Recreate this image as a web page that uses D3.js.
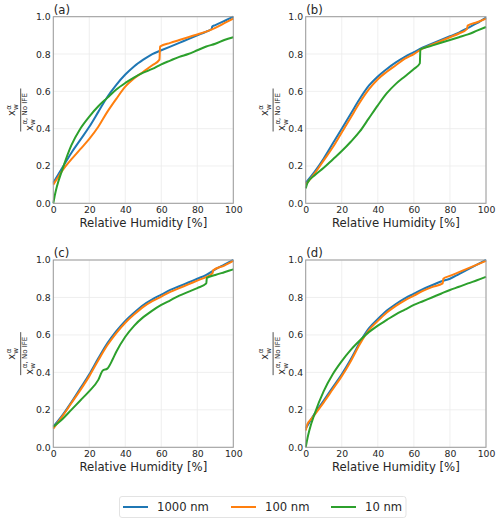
<!DOCTYPE html>
<html>
<head>
<meta charset="utf-8">
<script src="https://cdn.jsdelivr.net/npm/d3@7"></script>
<style>
  html, body { margin: 0; padding: 0; background: #fff; }
  svg { display: block; }
  text { font-family: "DejaVu Sans", sans-serif; fill: #262626; }
</style>
</head>
<body>
<svg id="chart" width="500" height="523"></svg>
<script>
// ---- data ----
const seriesNames = ["1000 nm", "100 nm", "10 nm"];
const seriesColors = ["#1f77b4", "#ff7f0e", "#2ca02c"];
const panelLabels = ["(a)", "(b)", "(c)", "(d)"];
const xTicks = [0, 20, 40, 60, 80, 100];
const yTicks = [0.0, 0.2, 0.4, 0.6, 0.8, 1.0];

// panel (a)
const a1000 = [[0,0.11],[5,0.19],[10,0.27],[15,0.34],[20,0.41],[25,0.49],[30,0.57],[35,0.635],[40,0.69],[45,0.735],[50,0.77],[55,0.80],[60,0.82],[65,0.84],[70,0.86],[75,0.88],[80,0.90],[85,0.92],[88,0.935],[88.3,0.948],[90,0.955],[95,0.977],[100,1.0]];
const a100  = [[0,0.10],[2,0.13],[5,0.175],[10,0.235],[15,0.29],[20,0.345],[25,0.41],[30,0.49],[35,0.56],[40,0.625],[45,0.67],[50,0.705],[55,0.74],[59,0.77],[59.3,0.84],[65,0.86],[70,0.875],[75,0.89],[80,0.905],[85,0.92],[90,0.94],[95,0.965],[100,0.99]];
const a10   = [[0,0.0],[1,0.05],[2,0.09],[5,0.18],[10,0.31],[15,0.40],[20,0.465],[25,0.52],[30,0.565],[35,0.61],[40,0.645],[45,0.675],[50,0.70],[55,0.72],[60,0.745],[65,0.765],[70,0.785],[75,0.80],[80,0.82],[85,0.84],[90,0.855],[95,0.875],[100,0.89]];

// panel (b)
const b1000 = [[0,0.11],[5,0.17],[10,0.24],[15,0.32],[20,0.40],[25,0.48],[30,0.56],[35,0.63],[40,0.68],[45,0.72],[50,0.755],[55,0.785],[60,0.81],[65,0.835],[70,0.855],[75,0.875],[80,0.895],[85,0.915],[90,0.94],[95,0.965],[100,0.995]];
const b100  = [[0,0.10],[5,0.16],[10,0.23],[15,0.30],[20,0.38],[25,0.46],[30,0.54],[35,0.61],[40,0.665],[45,0.705],[50,0.74],[55,0.775],[60,0.80],[65,0.83],[70,0.85],[75,0.87],[80,0.89],[85,0.91],[89.5,0.935],[89.8,0.952],[95,0.97],[100,0.99]];
const b10   = [[0,0.08],[1,0.11],[5,0.15],[10,0.19],[15,0.235],[20,0.28],[25,0.33],[30,0.385],[35,0.455],[40,0.525],[45,0.59],[50,0.64],[55,0.68],[60,0.72],[63.3,0.75],[63.6,0.825],[65,0.83],[70,0.845],[75,0.86],[80,0.875],[85,0.89],[90,0.905],[95,0.925],[100,0.945]];

// panel (c)
const c1000 = [[0,0.11],[5,0.17],[10,0.24],[15,0.315],[20,0.39],[25,0.475],[30,0.555],[35,0.62],[40,0.675],[45,0.72],[50,0.76],[55,0.79],[60,0.815],[65,0.84],[70,0.86],[75,0.88],[80,0.90],[85,0.92],[90,0.95],[95,0.975],[100,1.0]];
const c100  = [[0,0.10],[5,0.165],[10,0.235],[15,0.305],[20,0.38],[25,0.465],[30,0.545],[35,0.61],[40,0.665],[45,0.71],[50,0.75],[55,0.78],[60,0.805],[65,0.83],[70,0.85],[75,0.87],[80,0.89],[85,0.91],[88.5,0.93],[88.8,0.945],[95,0.97],[100,0.995]];
const c10   = [[0,0.11],[5,0.15],[10,0.20],[15,0.25],[20,0.30],[25,0.36],[27.5,0.41],[30,0.42],[33,0.47],[35,0.51],[40,0.59],[45,0.65],[50,0.695],[55,0.73],[60,0.76],[65,0.785],[70,0.81],[75,0.83],[80,0.85],[85,0.875],[85.3,0.905],[90,0.92],[95,0.935],[100,0.95]];

// panel (d)
const d1000 = [[0,0.10],[5,0.18],[10,0.25],[15,0.32],[20,0.39],[25,0.47],[30,0.56],[35,0.635],[40,0.685],[45,0.73],[50,0.765],[55,0.795],[60,0.82],[65,0.845],[70,0.865],[75,0.885],[80,0.90],[85,0.925],[90,0.95],[95,0.975],[100,1.0]];
const d100  = [[0,0.09],[1,0.125],[3,0.15],[5,0.175],[10,0.24],[15,0.31],[20,0.38],[25,0.46],[30,0.55],[35,0.625],[40,0.675],[45,0.72],[50,0.755],[55,0.785],[60,0.81],[65,0.835],[70,0.855],[76,0.875],[76.3,0.90],[80,0.915],[85,0.935],[90,0.955],[95,0.975],[100,0.995]];
const d10   = [[0,0.0],[1,0.05],[2,0.09],[5,0.18],[10,0.30],[15,0.39],[20,0.46],[25,0.52],[30,0.57],[35,0.615],[40,0.65],[45,0.68],[50,0.71],[55,0.735],[60,0.76],[65,0.78],[70,0.80],[75,0.82],[80,0.84],[85,0.857],[90,0.875],[95,0.892],[100,0.91]];

const panelData = [[a1000, a100, a10], [b1000, b100, b10], [c1000, c100, c10], [d1000, d100, d10]];

// ---- layout ----
const panels = [
  {x0: 53.3, x1: 233.3, y0: 16.7, y1: 203.3},
  {x0: 305.7, x1: 486, y0: 16.7, y1: 203.3},
  {x0: 53.3, x1: 233.3, y0: 260, y1: 447.3},
  {x0: 305.7, x1: 486, y0: 260, y1: 447.3}
];

const svg = d3.select("#chart");

panels.forEach((p, i) => {
  const x = d3.scaleLinear().domain([0, 100]).range([p.x0, p.x1]);
  const y = d3.scaleLinear().domain([0, 1]).range([p.y1, p.y0]);
  const g = svg.append("g");

  // grid
  g.append("g").selectAll("line").data(xTicks).join("line")
    .attr("x1", d => x(d)).attr("x2", d => x(d))
    .attr("y1", p.y0).attr("y2", p.y1)
    .attr("stroke", "#ebebeb").attr("stroke-width", 0.8);
  g.append("g").selectAll("line").data(yTicks).join("line")
    .attr("y1", d => y(d)).attr("y2", d => y(d))
    .attr("x1", p.x0).attr("x2", p.x1)
    .attr("stroke", "#ebebeb").attr("stroke-width", 0.8);

  // axes (labels only)
  const xAxis = d3.axisBottom(x).tickValues(xTicks).tickSize(0).tickPadding(3.5).tickFormat(d3.format("d"));
  const yAxis = d3.axisLeft(y).tickValues(yTicks).tickSize(0).tickPadding(2.6).tickFormat(d3.format(".1f"));
  const gx = g.append("g").attr("transform", `translate(0,${p.y1})`).call(xAxis);
  const gy = g.append("g").attr("transform", `translate(${p.x0},0)`).call(yAxis);
  [gx, gy].forEach(ax => {
    ax.select(".domain").remove();
    ax.selectAll("text").attr("font-size", 9.3).attr("font-family", "DejaVu Sans").attr("fill", "#262626");
  });

  // lines
  const line = d3.line().x(d => x(d[0])).y(d => y(d[1])).curve(d3.curveMonotoneX);
  const clipId = "clip" + i;
  svg.append("clipPath").attr("id", clipId).append("rect")
    .attr("x", p.x0 - 1).attr("y", p.y0 - 2).attr("width", p.x1 - p.x0 + 2).attr("height", p.y1 - p.y0 + 3);
  panelData[i].forEach((s, k) => {
    g.append("path").datum(s).attr("d", line)
      .attr("fill", "none").attr("stroke", seriesColors[k]).attr("stroke-width", 2)
      .attr("clip-path", `url(#${clipId})`);
  });

  // frame
  g.append("rect").attr("x", p.x0).attr("y", p.y0)
    .attr("width", p.x1 - p.x0).attr("height", p.y1 - p.y0)
    .attr("fill", "none").attr("stroke", "#9a9a9a").attr("stroke-width", 1);

  // panel label
  g.append("text").attr("x", p.x0 + 0.5).attr("y", p.y0 - 2.8)
    .attr("font-size", 11.7).text(panelLabels[i]);

  // x label
  g.append("text").attr("x", (p.x0 + p.x1) / 2).attr("y", p.y1 + 23.8)
    .attr("text-anchor", "middle").attr("font-size", 11.7).text("Relative Humidity [%]");

  // y label (fraction)
  const cx = p.x0 - 32.6, cy = (p.y0 + p.y1) / 2;
  const fl = g.append("g").attr("transform", `translate(${cx},${cy}) rotate(-90)`);
  fl.append("line").attr("x1", -21.5).attr("x2", 21.5).attr("y1", 0).attr("y2", 0)
    .attr("stroke", "#262626").attr("stroke-width", 0.8);
  // numerator
  fl.append("text").attr("x", -6).attr("y", -5.5).attr("font-size", 10).text("x");
  fl.append("text").attr("x", 0).attr("y", -2.5).attr("font-size", 7).text("w");
  fl.append("text").attr("x", 0.3).attr("y", -10).attr("font-size", 7).text("α");
  // denominator
  fl.append("text").attr("x", -21).attr("y", 12).attr("font-size", 10).text("x");
  fl.append("text").attr("x", -15).attr("y", 14.5).attr("font-size", 7).text("w");
  fl.append("text").attr("x", -14.5).attr("y", 6.5).attr("font-size", 7).text("α, No IFE");
});

// legend
const lg = svg.append("g");
lg.append("rect").attr("x", 119.5).attr("y", 496.5).attr("width", 286.5).attr("height", 21)
  .attr("rx", 2.5).attr("fill", "#fff").attr("stroke", "#dcdcdc").attr("stroke-width", 0.8);
const legX = [123, 231, 331];
seriesNames.forEach((n, k) => {
  lg.append("line").attr("x1", legX[k]).attr("x2", legX[k] + 25).attr("y1", 507).attr("y2", 507)
    .attr("stroke", seriesColors[k]).attr("stroke-width", 2);
  lg.append("text").attr("x", legX[k] + 34).attr("y", 511.2).attr("font-size", 11.6).text(n);
});
</script>
</body>
</html>
